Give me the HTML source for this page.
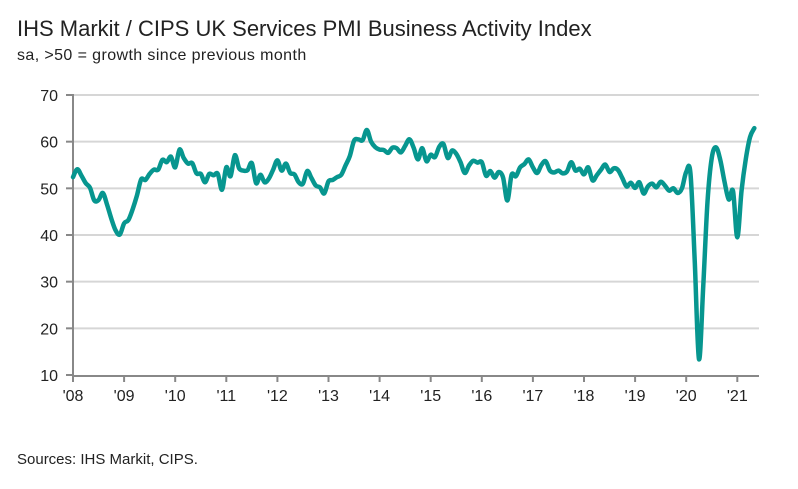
<!DOCTYPE html>
<html><head><meta charset="utf-8"><style>
body{margin:0;background:#fff;font-family:"Liberation Sans",sans-serif;}
#wrap{position:relative;width:798px;height:489px;overflow:hidden;}
.t{position:absolute;color:#222;white-space:nowrap;}
</style></head><body>
<div id="wrap">
<div class="t" style="left:17px;top:16px;font-size:22px;">IHS Markit / CIPS UK Services PMI Business Activity Index</div>
<div class="t" style="left:17px;top:47px;font-size:16px;letter-spacing:0.4px;">sa, &gt;50 = growth since previous month</div>
<div class="t" style="left:17px;top:451px;font-size:15px;">Sources: IHS Markit, CIPS.</div>
<svg id="svg" width="798" height="489" style="position:absolute;left:0;top:0"></svg>
</div>
<script>
const yTicks=[10,20,30,40,50,60,70];
const yearLabels=["'08","'09","'10","'11","'12","'13","'14","'15","'16","'17","'18","'19","'20","'21"];
const startYear=2008;
const pmiValues=[
52.4,54.1,52.7,51.1,50.1,47.4,47.5,49.0,46.5,43.5,41.0,40.1,
42.5,43.2,45.5,48.4,51.9,51.8,53.1,54.0,54.0,56.1,55.6,56.8,
54.5,58.3,56.5,55.3,55.4,53.2,53.1,51.3,53.1,52.8,53.1,49.7,
54.5,52.6,57.1,54.3,53.8,53.9,55.4,51.1,52.9,51.3,52.1,54.0,
56.0,53.8,55.3,53.3,53.0,51.3,51.0,53.7,52.2,50.6,50.2,48.9,
51.5,51.8,52.4,52.9,54.9,56.9,60.2,60.5,60.3,62.5,60.0,58.8,
58.3,58.2,57.6,58.7,58.6,57.7,59.1,60.5,58.7,56.2,58.6,55.8,
57.2,56.7,58.9,59.5,56.5,58.1,57.4,55.6,53.3,54.9,55.9,55.5,
55.6,52.7,53.7,52.3,53.5,52.3,47.4,52.9,52.6,54.5,55.2,56.2,
54.5,53.3,55.0,55.8,53.8,53.4,53.8,53.2,53.6,55.6,53.8,54.2,
53.0,54.5,51.7,52.8,54.0,55.1,53.5,54.3,53.9,52.2,50.4,51.2,
50.1,51.3,48.9,50.4,51.0,50.2,51.4,50.6,49.5,50.0,49.0,50.0,
53.5,53.2,34.5,13.4,29.0,47.1,56.5,58.8,56.1,51.4,47.6,49.4,
39.5,49.5,56.3,61.0,62.9];
const NS="http://www.w3.org/2000/svg";
const svg=document.getElementById('svg');
const X0=73,XR=759,YEARW=51.1;
const xPos=m=>X0+m*YEARW/12;
const yPos=v=>375-(v-10)*280/60;
function mk(tag,attrs){const e=document.createElementNS(NS,tag);for(const k in attrs)e.setAttribute(k,attrs[k]);svg.appendChild(e);return e;}
yTicks.forEach(v=>{
  if(v>10){const g=mk('line',{x1:X0,x2:XR,y1:yPos(v),y2:yPos(v),stroke:'#d6d6d6','stroke-width':2});
  
  }
  const tk=mk('line',{x1:66,x2:X0,y1:yPos(v),y2:yPos(v),stroke:'#888','stroke-width':2});
  
  
  const t=mk('text',{x:58,y:yPos(v)+6,'text-anchor':'end','font-size':16,fill:'#222','font-family':'Liberation Sans, sans-serif'});
  t.textContent=v;
  
  
});
const ya=mk('line',{x1:X0,x2:X0,y1:yPos(70)-1,y2:376,stroke:'#888','stroke-width':2});


const xa=mk('line',{x1:X0,x2:XR,y1:376,y2:376,stroke:'#888','stroke-width':2});


yearLabels.forEach((l,i)=>{
  const x=xPos(i*12);
  const tk=mk('line',{x1:x,x2:x,y1:376,y2:382,stroke:'#888','stroke-width':2});
  
  
  const t=mk('text',{x:x,y:401,'text-anchor':'middle','font-size':16,fill:'#222','font-family':'Liberation Sans, sans-serif'});
  t.textContent=l;
  
  
});
const pts=pmiValues.map((v,i)=>[xPos(i),yPos(v)]);
let d='M'+pts[0][0]+','+pts[0][1];
for(let i=0;i<pts.length-1;i++){
  const p0=pts[Math.max(0,i-1)],p1=pts[i],p2=pts[i+1],p3=pts[Math.min(pts.length-1,i+2)];
  const c1=[p1[0]+(p2[0]-p0[0])/6,p1[1]+(p2[1]-p0[1])/6];
  const c2=[p2[0]-(p3[0]-p1[0])/6,p2[1]-(p3[1]-p1[1])/6];
  d+=` C${c1[0]},${c1[1]} ${c2[0]},${c2[1]} ${p2[0]},${p2[1]}`;
}
const line=mk('path',{d:d,fill:'none',stroke:'#07968f','stroke-width':4.5,'stroke-linejoin':'round','stroke-linecap':'round'});


</script>
</body></html>
